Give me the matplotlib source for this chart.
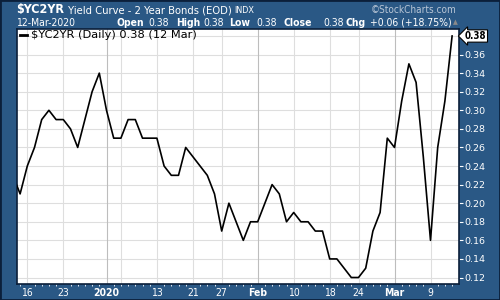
import numpy as np
import matplotlib.pyplot as plt
from matplotlib.ticker import FixedLocator

# 2 year yield, one value per trading day, 12-Dec-2019 .. 12-Mar-2020
values = [0.23, 0.21, 0.24, 0.26, 0.29, 0.30, 0.29, 0.29, 0.28, 0.26,
          0.29, 0.32, 0.34, 0.30, 0.27, 0.27, 0.29, 0.29, 0.27, 0.27,
          0.27, 0.24, 0.23, 0.23, 0.26, 0.25, 0.24, 0.23, 0.21, 0.17,
          0.20, 0.18, 0.16, 0.18, 0.18, 0.20, 0.22, 0.21, 0.18, 0.19,
          0.18, 0.18, 0.17, 0.17, 0.14, 0.14, 0.13, 0.12, 0.12, 0.13,
          0.17, 0.19, 0.27, 0.26, 0.31, 0.35, 0.33, 0.25, 0.16, 0.26,
          0.31, 0.38]

# x ticks are trading-day indexes into values
tick_pos = [2, 7, 13, 20, 25, 29, 34, 39, 44, 48, 53, 58]
tick_labels = ["16", "23", "2020", "13", "21", "27", "Feb", "10", "18", "24", "Mar", "9"]
bold_labels = ["2020", "Feb", "Mar"]
grid_pos = [2, 7, 15, 20, 25, 29, 39, 44, 48, 58]
month_pos = [13, 34, 53]

y_ticks = [0.12, 0.14, 0.16, 0.18, 0.20, 0.22, 0.24, 0.26, 0.28, 0.30, 0.32, 0.34, 0.36]
y_grid = [0.12, 0.14, 0.16, 0.18, 0.20, 0.22, 0.24, 0.26, 0.28, 0.30, 0.32, 0.34, 0.36, 0.38]

last = values[-1]
bg = '#2a5885'
white = 'white'

plt.rcParams['font.family'] = ['DejaVu Sans']
plt.rcParams['font.stretch'] = 'condensed'

fig = plt.figure(figsize=(5, 3), dpi=100, facecolor=bg)
ax = fig.add_axes([0.033, 0.0533, 0.8856, 0.85])
ax.set_facecolor('white')

x = np.arange(len(values))
ax.plot(x, values, color='black', lw=1.2, zorder=3)

ax.set_xlim(0.5, 62)
ax.set_ylim(0.113, 0.3875)

# grid
for g in y_grid:
    ax.axhline(g, color='#dedede', lw=0.8, zorder=1)
for g in grid_pos:
    ax.axvline(g, color='#dedede', lw=0.8, zorder=1)
for g in month_pos:
    ax.axvline(g, color='#bdbdbd', lw=0.8, zorder=1)

for s in ax.spines.values():
    s.set_color('#0b1f3a')
    s.set_linewidth(1.2)

# y axis on the right
ax.yaxis.tick_right()
ax.set_yticks(y_ticks)
ax.set_yticklabels(["%.2f" % v for v in y_ticks], fontstretch='normal')
ax.tick_params(axis='y', colors=white, labelsize=6.8, length=3, width=0.8, pad=1)

# x axis
ax.set_xticks(tick_pos)
ax.set_xticklabels(tick_labels)
for lab in ax.get_xticklabels():
    if lab.get_text() in bold_labels:
        lab.set_fontweight('bold')
ax.tick_params(axis='x', colors=white, labelsize=7.5, length=0, pad=3)
ax.xaxis.set_minor_locator(FixedLocator(x))
ax.tick_params(axis='x', which='minor', colors=white, length=1.5, width=0.6)

# price tag for the last value
ax.annotate("%.2f" % last, xy=(1.0, last), xycoords=('axes fraction', 'data'),
            xytext=(4, 0), textcoords='offset points', va='center', ha='left',
            fontsize=7, fontweight='bold', color='black',
            bbox=dict(boxstyle='larrow,pad=0.12', fc='white', ec='black', lw=0.8),
            annotation_clip=False, zorder=5)

# legend line inside the plot
ax.plot([0.008, 0.023], [0.975, 0.975], transform=ax.transAxes, color='black', lw=2, clip_on=False)
ax.text(0.033, 0.975, "$YC2YR (Daily) %.2f (12 Mar)" % last, transform=ax.transAxes,
        fontsize=8.2, fontstretch='normal', va='center', ha='left', color='black')

# header
fig.text(0.033, 0.968, "$YC2YR", color=white, fontsize=9, fontweight='bold', va='center')
fig.text(0.136, 0.966, "Yield Curve - 2 Year Bonds (EOD)", color=white, fontsize=8, va='center')
fig.text(0.468, 0.966, "INDX", color=white, fontsize=6.5, va='center')
fig.text(0.741, 0.968, "\u00a9StockCharts.com", color='#b9c6d6', fontsize=7.2, va='center')

fig.text(0.033, 0.924, "12-Mar-2020", color=white, fontsize=7.5, va='center')
stats = [("Open", 116.7, True), ("%.2f" % last, 148.3, False),
         ("High", 176, True), ("%.2f" % last, 203, False),
         ("Low", 229, True), ("%.2f" % last, 256.7, False),
         ("Close", 284, True), ("%.2f" % last, 323, False),
         ("Chg", 345, True), ("+0.06 (+18.75%)", 370, False)]
for txt, px, b in stats:
    fig.text(px / 500, 0.924, txt, color=white, fontsize=7.5,
             fontweight='bold' if b else 'normal', va='center')
fig.text(0.905, 0.926, "\u25b2", color='#8a8a8a', fontsize=5, va='center')

# dark outer frame
fig.patches.append(plt.Rectangle((0, 0), 1, 1, transform=fig.transFigure, fill=False,
                                 ec='#0b1f3a', lw=2))

fig.savefig('out.png', dpi=100, facecolor=bg)
